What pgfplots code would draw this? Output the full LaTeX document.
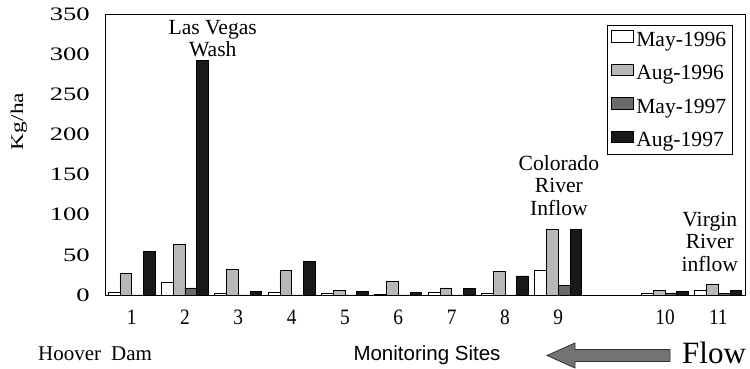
\documentclass[border=0pt]{standalone}
\usepackage{fontspec}
\setmainfont{Liberation Serif}
\newfontfamily\sansf{Liberation Sans}
\usepackage{graphicx}
\usepackage{pgfplots}
\pgfplotsset{compat=1.18}
\definecolor{lgray}{gray}{0.72}
\definecolor{dgray}{gray}{0.42}
\definecolor{nblack}{gray}{0.1}
\newcommand\xs[1]{\scalebox{0.88}[1]{#1}}
\begin{document}
\begin{tikzpicture}
\begin{axis}[
 width=640pt, height=281pt, scale only axis,
 xmin=0.5, xmax=12.5, ymin=0, ymax=350,
 ybar=0pt, bar width=11.7pt,
 xtick={1,2,3,4,5,6,7,8,9,11,12},
 xticklabels={\xs{1},\xs{2},\xs{3},\xs{4},\xs{5},\xs{6},\xs{7},\xs{8},\xs{9},\xs{10},\xs{11}},
 ytick={0,50,...,350},
 yticklabels={\scalebox{1.4}[1]{0},\scalebox{1.4}[1]{50},\scalebox{1.4}[1]{100},\scalebox{1.4}[1]{150},\scalebox{1.4}[1]{200},\scalebox{1.4}[1]{250},\scalebox{1.4}[1]{300},\scalebox{1.4}[1]{350}},
 major tick length=0pt,
 axis line style={line width=0.9pt},
 /pgf/number format/assume math mode=true,
 xticklabel style={font=\fontsize{22}{24}\selectfont, anchor=base, yshift=-30pt, inner sep=0pt},
 yticklabel style={font=\fontsize{19}{21}\selectfont, anchor=east, xshift=-15pt, inner sep=0pt},
 legend style={at={(1,1)}, anchor=north east, xshift=-12pt, yshift=-11pt, draw=black, line width=0.9pt,
   font=\fontsize{21.6}{23}\selectfont, inner sep=4.3pt, row sep=13.7pt, nodes={inner sep=2pt}},
 legend cell align=left,
 legend image code/.code={\draw[#1, line width=0.9pt] (0pt,-2.5pt) rectangle (22pt,9pt);},
 clip=false,
]
\addplot[fill=white, draw=black, line width=0.9pt] coordinates {(1,3.3) (2,15.4) (3,2) (4,3.3) (5,2.5) (6,1) (7,3.7) (8,2.5) (9,30.8) (11,1.5) (12,6.2)};
\addplot[fill=lgray, draw=black, line width=0.9pt] coordinates {(1,27) (2,63) (3,31.7) (4,30.4) (5,5.4) (6,16.7) (7,8.75) (8,29) (9,82) (11,6.2) (12,13.7)};
\addplot[fill=dgray, draw=black, line width=0.9pt] coordinates {(1,0) (2,8.75) (3,0) (4,0) (5,0) (6,0) (7,0) (8,0) (9,11.7) (11,2.5) (12,2)};
\addplot[fill=nblack, draw=black, line width=0.9pt] coordinates {(1,54) (2,292) (3,4.2) (4,42) (5,4.2) (6,2.9) (7,7.9) (8,23.7) (9,82) (11,4) (12,5.8)};
\legend{May-1996,Aug-1996,May-1997,Aug-1997}
\coordinate (O) at (rel axis cs:0,0);
\node[align=center, anchor=north, inner sep=0pt, font=\fontsize{21.6}{22}\selectfont] at (axis cs:2.52,342.5) {Las Vegas\\Wash};
\node[align=center, anchor=north, inner sep=0pt, font=\fontsize{21.6}{22.5}\selectfont] at (axis cs:9.01,174.3) {Colorado\\River\\Inflow};
\node[align=center, anchor=north, inner sep=0pt, font=\fontsize{21.6}{22.5}\selectfont] at (axis cs:11.84,103.7) {Virgin\\River\\inflow};
\end{axis}
\node[rotate=90, inner sep=0pt, font=\fontsize{18}{20}\selectfont] at ([shift={(-86.3pt,173.5pt)}]O) {\scalebox{1.3}[1]{Kg/ha}};
\node[anchor=base west, inner sep=0pt, font=\fontsize{21}{23}\selectfont] at ([shift={(-67pt,-65.7pt)}]O) {Hoover\hspace{10pt}Dam};
\node[anchor=base, inner sep=0pt, font=\sansf\fontsize{20.5}{22}\selectfont] at ([shift={(322pt,-65.7pt)}]O) {Monitoring Sites};
\filldraw[fill=black!55, draw=black!80, line width=0.8pt] ([shift={(442pt,-60.5pt)}]O) -- ++(28pt,12.5pt) -- ++(0,-6.5pt) -- ++(95pt,0) -- ++(0,-12pt) -- ++(-95pt,0) -- ++(0,-6.5pt) -- cycle;
\node[anchor=base west, inner sep=0pt, font=\fontsize{31}{33}\selectfont] at ([shift={(577pt,-68.3pt)}]O) {Flow};
\pgfresetboundingbox
\path[use as bounding box] ([shift={(-105pt,-74pt)}]O) rectangle ([shift={(645pt,295pt)}]O);
\end{tikzpicture}
\end{document}
